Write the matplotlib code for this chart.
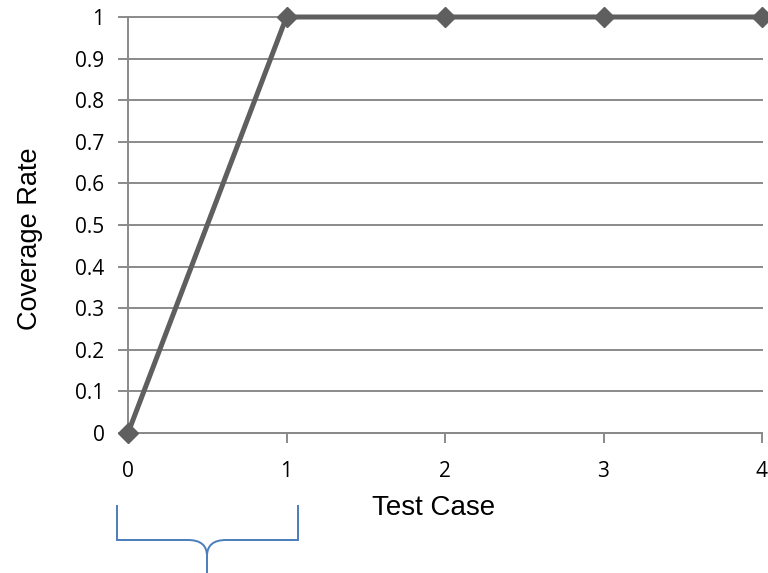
import matplotlib
matplotlib.use("Agg")
import matplotlib.pyplot as plt
from matplotlib.path import Path
from matplotlib.patches import PathPatch

# data
test_case = [0, 1, 2, 3, 4]
coverage = [0, 1, 1, 1, 1]
y_ticks = [0, 0.1, 0.2, 0.3, 0.4, 0.5, 0.6, 0.7, 0.8, 0.9, 1]
y_labels = ["0", "0.1", "0.2", "0.3", "0.4", "0.5", "0.6", "0.7", "0.8", "0.9", "1"]

W, H = 768, 573
fig = plt.figure(figsize=(W / 100, H / 100), dpi=100)
ax = fig.add_axes([128 / W, 1 - 433 / H, (762 - 128) / W, (433 - 17) / H])

def fp(x, y):
    return (x / W, 1 - y / H)

grid_c = "#8a8a8a"
ax.set_xlim(0, 4)
ax.set_ylim(0, 1)
ax.set_yticks(y_ticks)
ax.set_yticklabels(y_labels)
ax.set_xticks(test_case)
ax.yaxis.grid(True, color=grid_c, linewidth=1.4)
for gl in ax.get_ygridlines():
    gl.set_clip_on(False)
ax.set_axisbelow(True)
for s in ["top", "right"]:
    ax.spines[s].set_visible(False)
for s in ["left", "bottom"]:
    ax.spines[s].set_color(grid_c)
    ax.spines[s].set_linewidth(1.4)
ax.tick_params(axis="both", colors=grid_c, length=7, width=1.4, labelcolor="black",
               labelsize=15)
ax.tick_params(axis="y", pad=10)
ax.tick_params(axis="x", pad=13)
for lab in ax.get_xticklabels() + ax.get_yticklabels():
    lab.set_family(["Open Sans", "DejaVu Sans"])

ax.plot(test_case, coverage, color="#5f5f5f", linewidth=3.6, marker="D",
        markersize=10.5, clip_on=False, zorder=5)

fig.text(*fp(434, 515), "Test Case", fontsize=20, family="Liberation Sans",
         ha="center", va="baseline")
fig.text(*fp(30, 239), "Coverage Rate", fontsize=19.5, family="Liberation Sans",
         ha="center", va="center", rotation=90)

# curly brace below the first interval
verts = [fp(117, 505), fp(117, 540), fp(117, 540), fp(138, 540),
         fp(188, 540), fp(207, 540), fp(207, 556), fp(207, 573),
         fp(207, 556), fp(207, 540), fp(226, 540),
         fp(277, 540), fp(298, 540), fp(298, 540), fp(298, 505)]
codes = [Path.MOVETO, Path.CURVE3, Path.CURVE3, Path.LINETO,
         Path.LINETO, Path.CURVE3, Path.CURVE3, Path.LINETO,
         Path.MOVETO, Path.CURVE3, Path.CURVE3,
         Path.LINETO, Path.CURVE3, Path.CURVE3, Path.LINETO]
brace = PathPatch(Path(verts, codes), transform=fig.transFigure, fill=False,
                  edgecolor="#4a7ebb", linewidth=1.4)
fig.patches.append(brace)

fig.savefig("out.png", dpi=100)
